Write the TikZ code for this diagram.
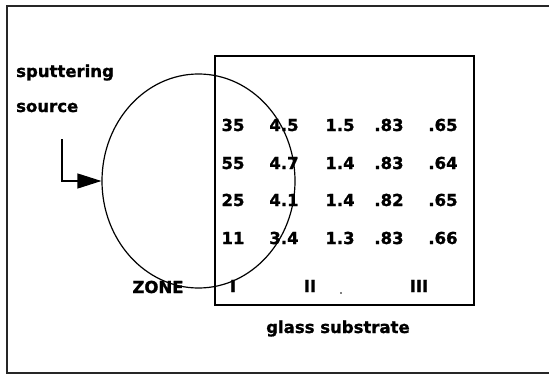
\documentclass[tikz,border=0pt]{standalone}
\usepackage{fontspec}
\setmainfont{DejaVu Sans}[BoldFont={DejaVu Sans Bold},BoldFeatures={FakeBold=1.2}]
\usetikzlibrary{shapes.geometric,arrows.meta}
\tikzset{
  lbl/.style={font=\fontsize{16.5}{19}\selectfont\bfseries, inner sep=0pt, anchor=base},
  lblw/.style={lbl, anchor=base west},
  num/.style={lbl},
  framebox/.style={draw=black!85, line width=2pt},
  subbox/.style={draw=black, line width=2pt, minimum width=259pt, minimum height=249pt, inner sep=0pt},
  srcell/.style={ellipse, draw=black, line width=1.2pt, minimum width=193pt, minimum height=214pt, inner sep=0pt},
  feed/.style={line width=1.2pt, -{Triangle[length=24pt,width=15pt]}}
}
\begin{document}
\begin{tikzpicture}[x=1pt,y=-1pt]
\useasboundingbox (0,0) rectangle (549,375);
\draw[framebox] (560,6) -- (7,6) -- (7,373) -- (560,373);
\node[subbox] (sub) at (344.5,180.5) {};
\node[srcell] (src) at (198.5,181) {};
\node[lblw] (sp) at (16,77) {sputtering};
\node[lblw] (so) at (16,112) {source};
\coordinate (feedtop) at (62,139);
\draw[feed] (feedtop) |- (src.west);
% numbers
\foreach \y/\a/\b/\c/\d/\e [count=\r] in {131/35/4.5/1.5/.83/.65, 169/55/4.7/1.4/.83/.64, 206/25/4.1/1.4/.82/.65, 244/11/3.4/1.3/.83/.66}{
  \node[num] (n\r a) at (233,\y) {\a};
  \node[num] (n\r b) at (284,\y) {\b};
  \node[num] (n\r c) at (340,\y) {\c};
  \node[num] (n\r d) at (389,\y) {\d};
  \node[num] (n\r e) at (443,\y) {\e};
}
\node[lbl] (zone) at (158,293) {ZONE};
\node[lbl] (z1) at (233,292) {I};
\node[lbl] (z2) at (310,292) {II};
\node[lbl] (z3) at (419,292) {III};
\fill (341,293) circle (0.8);
\node[lbl] (glass) at (338,333) {glass substrate};
\end{tikzpicture}
\end{document}
